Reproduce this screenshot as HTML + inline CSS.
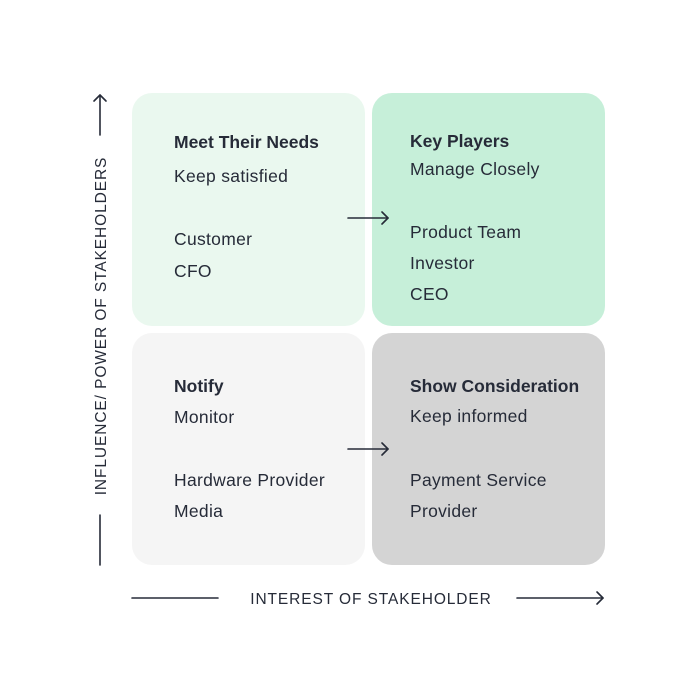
<!DOCTYPE html>
<html>
<head>
<meta charset="utf-8">
<style>
  html, body { margin: 0; padding: 0; background: #ffffff; }
  svg { display: block; }
  text { font-family: "Liberation Sans", "DejaVu Sans", sans-serif; fill: #262b38; }
  .t { font-size: 17.5px; font-weight: bold; }
  .b { font-size: 17.5px; letter-spacing: 0.3px; }
  .ax { font-size: 15.5px; letter-spacing: 0.9px; }
</style>
</head>
<body>
<svg width="700" height="700" viewBox="0 0 700 700" xmlns="http://www.w3.org/2000/svg">
  <rect x="0" y="0" width="700" height="700" fill="#ffffff"/>

  <!-- Quadrants -->
  <rect x="132" y="93" width="233" height="233" rx="20" ry="20" fill="#eaf8ef"/>
  <rect x="372" y="93" width="233" height="233" rx="20" ry="20" fill="#c6efd9"/>
  <rect x="132" y="333" width="233" height="232" rx="20" ry="20" fill="#f5f5f5"/>
  <rect x="372" y="333" width="233" height="232" rx="20" ry="20" fill="#d4d4d4"/>

  <!-- Top-left -->
  <text class="t" x="174" y="148">Meet Their Needs</text>
  <text class="b" x="174" y="182">Keep satisfied</text>
  <text class="b" x="174" y="245">Customer</text>
  <text class="b" x="174" y="277">CFO</text>

  <!-- Top-right -->
  <text class="t" x="410" y="147">Key Players</text>
  <text class="b" x="410" y="175">Manage Closely</text>
  <text class="b" x="410" y="238">Product Team</text>
  <text class="b" x="410" y="269">Investor</text>
  <text class="b" x="410" y="300">CEO</text>

  <!-- Bottom-left -->
  <text class="t" x="174" y="392">Notify</text>
  <text class="b" x="174" y="423">Monitor</text>
  <text class="b" x="174" y="486">Hardware Provider</text>
  <text class="b" x="174" y="517">Media</text>

  <!-- Bottom-right -->
  <text class="t" x="410" y="392">Show Consideration</text>
  <text class="b" x="410" y="422">Keep informed</text>
  <text class="b" x="410" y="486">Payment Service</text>
  <text class="b" x="410" y="517">Provider</text>

  <g stroke="#262b38" stroke-width="1.6" fill="none" stroke-linecap="round" stroke-linejoin="round">
    <!-- middle arrows -->
    <line x1="348" y1="218" x2="388" y2="218"/>
    <polyline points="382,212 388,218 382,224"/>
    <line x1="348" y1="449" x2="388" y2="449"/>
    <polyline points="382,443 388,449 382,455"/>

    <!-- bottom axis -->
    <line x1="132" y1="598" x2="218" y2="598"/>
    <line x1="517" y1="598" x2="603" y2="598"/>
    <polyline points="597,592 603,598 597,604"/>

    <!-- vertical axis -->
    <line x1="100" y1="95" x2="100" y2="135"/>
    <polyline points="94,101 100,95 106,101"/>
    <line x1="100" y1="515" x2="100" y2="565"/>
  </g>

  <text class="ax" x="371" y="604" text-anchor="middle">INTEREST OF STAKEHOLDER</text>
  <text class="ax" transform="rotate(-90)" x="-326" y="106" text-anchor="middle">INFLUENCE/ POWER OF STAKEHOLDERS</text>
</svg>
</body>
</html>
